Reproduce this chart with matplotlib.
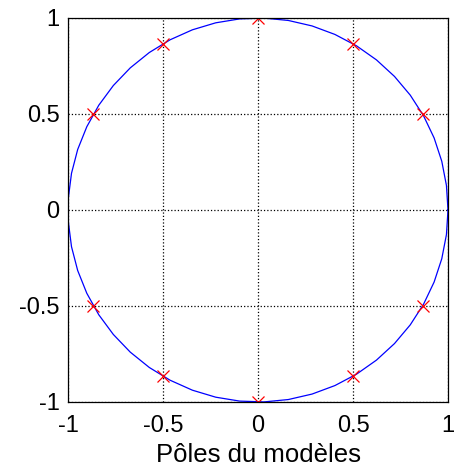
import numpy as np
import matplotlib
matplotlib.use("Agg")
import matplotlib.pyplot as plt

# pole angles in degrees (no poles on the real axis)
pole_angles = [30, 60, 90, 120, 150, 210, 240, 270, 300, 330]
ticks = [-1, -0.5, 0, 0.5, 1]
tick_labels = ["-1", "-0.5", "0", "0.5", "1"]

plt.rcParams['font.family'] = ['Liberation Sans', 'DejaVu Sans']

fig = plt.figure(figsize=(4.54, 4.70), dpi=100)
ax = fig.add_axes([68/454, 68/470, 380/454, 384/470])

# unit circle drawn as a coarse polygon
t = np.linspace(0, 2*np.pi, 50)
ax.plot(np.cos(t), np.sin(t), color=(0, 0, 1), lw=0.9)

a = np.deg2rad(pole_angles)
ax.plot(np.cos(a), np.sin(a), 'x', color='red', ms=8, mew=0.9)

ax.set_xlim(-1, 1)
ax.set_ylim(-1, 1)
ax.set_xticks(ticks)
ax.set_xticklabels(tick_labels)
ax.set_yticks(ticks)
ax.set_yticklabels(tick_labels)
ax.tick_params(labelsize=17, length=0)
ax.tick_params(axis='x', pad=9)
ax.tick_params(axis='y', pad=6)
ax.grid(True, linestyle=':', color='black', lw=0.9)
for s in ax.spines.values():
    s.set_linewidth(0.9)
ax.set_xlabel("Pôles du modèles", fontsize=18.5, labelpad=5)

fig.savefig("out.png", dpi=100)
